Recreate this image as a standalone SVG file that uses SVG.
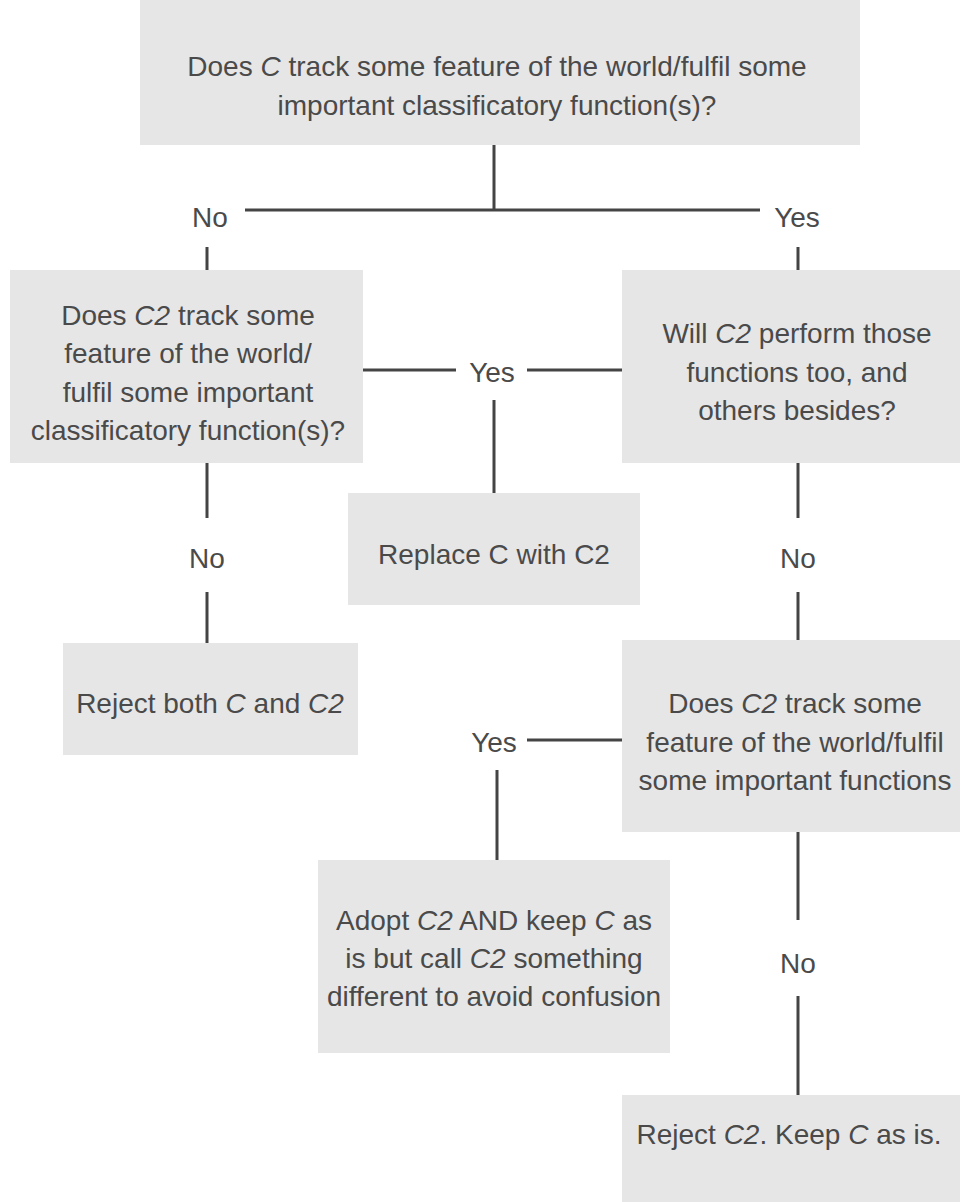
<svg xmlns="http://www.w3.org/2000/svg" width="965" height="1202" viewBox="0 0 965 1202">
<style>
.box{fill:#e6e6e7}
.t{font-family:"Liberation Sans",Arial,sans-serif;font-size:28px;fill:#4a4a4a;text-anchor:middle}
.c{stroke:#444;stroke-width:3;fill:none}
</style>
<rect width="965" height="1202" fill="#fff"/>
<g id="connectors">
<path class="c" d="M494 145V210M245 210H760M207 247V270M798 247V270M363 370H456M527 370H622M494 400V493M207 463V518M207 592V643M798 463V518M798 592V640M527 740H622M497 770V860M798 832V920M798 996V1095"/>
</g>
<g id="labels">
<text class="t" x="210" y="227">No</text>
<text class="t" x="797" y="227">Yes</text>
<text class="t" x="492" y="382">Yes</text>
<text class="t" x="207" y="568">No</text>
<text class="t" x="798" y="568">No</text>
<text class="t" x="494" y="752">Yes</text>
<text class="t" x="798" y="973">No</text>
</g>
<g id="n1">
<rect class="box" x="140" y="0" width="720" height="145"/>
<text class="t" x="497" y="76">Does <tspan font-style="italic">C</tspan> track some feature of the world/fulfil some</text>
<text class="t" x="497" y="115">important classificatory function(s)?</text>
</g>
<g id="n2">
<rect class="box" x="10" y="270" width="353" height="193"/>
<text class="t" x="188" y="325">Does <tspan font-style="italic">C2</tspan> track some</text>
<text class="t" x="188" y="363">feature of the world/</text>
<text class="t" x="188" y="402">fulfil some important</text>
<text class="t" x="188" y="440">classificatory function(s)?</text>
</g>
<g id="n3">
<rect class="box" x="622" y="270" width="338" height="193"/>
<text class="t" x="797" y="343">Will <tspan font-style="italic">C2</tspan> perform those</text>
<text class="t" x="797" y="382">functions too, and</text>
<text class="t" x="797" y="420">others besides?</text>
</g>
<g id="n4">
<rect class="box" x="348" y="493" width="292" height="112"/>
<text class="t" x="494" y="564">Replace C with C2</text>
</g>
<g id="n5">
<rect class="box" x="63" y="643" width="295" height="112"/>
<text class="t" x="210" y="713">Reject both <tspan font-style="italic">C</tspan> and <tspan font-style="italic">C2</tspan></text>
</g>
<g id="n6">
<rect class="box" x="622" y="640" width="338" height="192"/>
<text class="t" x="795" y="713">Does <tspan font-style="italic">C2</tspan> track some</text>
<text class="t" x="795" y="752">feature of the world/fulfil</text>
<text class="t" x="795" y="790">some important functions</text>
</g>
<g id="n7">
<rect class="box" x="318" y="860" width="352" height="193"/>
<text class="t" x="494" y="930">Adopt <tspan font-style="italic">C2</tspan> AND keep <tspan font-style="italic">C</tspan> as</text>
<text class="t" x="494" y="968">is but call <tspan font-style="italic">C2</tspan> something</text>
<text class="t" x="494" y="1006">different to avoid confusion</text>
</g>
<g id="n8">
<rect class="box" x="622" y="1095" width="338" height="107"/>
<text class="t" x="789" y="1144">Reject <tspan font-style="italic">C2</tspan>. Keep <tspan font-style="italic">C</tspan> as is.</text>
</g>
</svg>
